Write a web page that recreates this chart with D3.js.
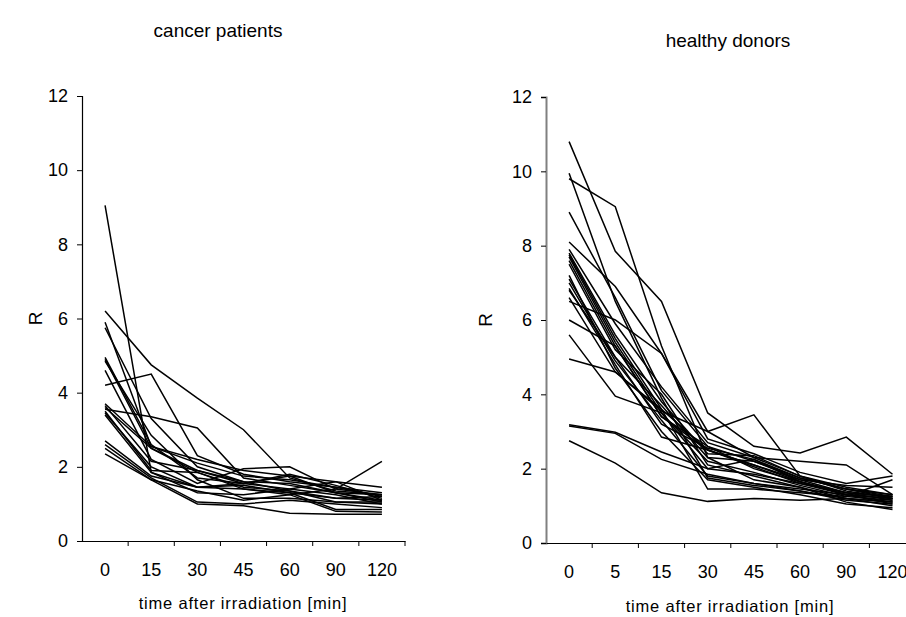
<!DOCTYPE html>
<html lang="en">
<head>
  <meta charset="UTF-8">
  <title>R vs time after irradiation</title>
  <style>
    body { margin: 0; background: #fff; }
    svg { display: block; font-family: 'Liberation Sans', Arial, sans-serif; }
    .series { fill: none; stroke: #000; stroke-width: 1.5px; stroke-linejoin: miter; }
    .tick-label { font-size: 18px; fill: #000; }
    .axis-title { font-size: 16.5px; letter-spacing: 0.8px; fill: #000; }
    .panel-title { font-size: 19px; fill: #000; }
  </style>
  <script src="https://cdn.jsdelivr.net/npm/d3@7"></script>
</head>
<body>
<svg width="906" height="617"></svg>
<script>
  // categories (minutes after irradiation)
  const cancerTimes = ['0', '15', '30', '45', '60', '90', '120'];
  const healthyTimes = ['0', '5', '15', '30', '45', '60', '90', '120'];
  const yTicks = [0, 2, 4, 6, 8, 10, 12];

  // cancer patients, one row per patient
  const cancerSeries = [
    [9.05, 1.85, 1.45, 1.40, 1.30, 1.15, 1.10],
    [6.20, 4.75, 3.85, 3.00, 1.70, 1.35, 1.25],
    [5.90, 2.55, 2.10, 1.75, 1.65, 1.45, 1.20],
    [5.75, 3.30, 2.00, 1.60, 1.55, 1.30, 1.05],
    [4.95, 2.60, 1.70, 1.55, 1.80, 1.50, 1.15],
    [4.90, 2.50, 1.90, 1.55, 1.40, 1.25, 1.00],
    [4.60, 2.20, 1.55, 1.95, 2.00, 1.40, 1.25],
    [4.20, 4.50, 2.30, 1.80, 1.60, 1.45, 1.30],
    [3.70, 2.55, 2.20, 1.90, 1.75, 1.60, 1.45],
    [3.65, 2.15, 1.90, 1.60, 1.35, 1.05, 1.05],
    [3.55, 3.35, 3.05, 1.70, 1.50, 1.30, 1.10],
    [3.50, 1.90, 1.85, 1.40, 1.25, 1.40, 2.15],
    [3.45, 2.00, 1.45, 1.55, 1.75, 1.30, 1.25],
    [3.40, 1.85, 1.30, 1.25, 1.40, 1.60, 1.10],
    [3.60, 2.50, 1.85, 1.45, 1.35, 1.15, 1.20],
    [4.85, 2.85, 1.65, 1.15, 1.15, 1.05, 1.00],
    [2.70, 1.75, 1.45, 1.50, 1.30, 0.85, 0.85],
    [2.60, 1.70, 1.05, 1.00, 1.10, 1.00, 0.90],
    [2.50, 1.65, 1.00, 0.95, 0.75, 0.72, 0.72],
    [2.35, 1.65, 1.35, 1.10, 1.25, 0.80, 0.78]
  ];

  // healthy donors, one row per donor
  const healthySeries = [
    [10.8, 7.85, 6.50, 3.50, 2.60, 2.42, 2.85, 1.85],
    [9.80, 9.05, 5.30, 2.30, 2.20, 1.75, 1.45, 1.20],
    [9.95, 6.50, 3.90, 1.75, 1.55, 1.40, 1.20, 1.10],
    [8.90, 6.60, 4.10, 2.60, 2.00, 1.65, 1.35, 1.15],
    [8.10, 6.90, 5.10, 3.00, 3.45, 1.80, 1.50, 1.30],
    [7.90, 5.90, 4.20, 2.70, 2.30, 2.20, 2.10, 1.30],
    [7.80, 5.60, 3.80, 2.40, 2.35, 1.80, 1.40, 1.20],
    [7.75, 5.50, 3.60, 2.50, 2.10, 1.65, 1.30, 1.05],
    [7.70, 5.40, 3.50, 2.20, 1.90, 1.55, 1.25, 1.15],
    [7.60, 5.30, 3.40, 2.60, 2.20, 1.70, 1.35, 1.25],
    [7.50, 5.20, 4.00, 2.10, 1.80, 1.50, 1.20, 1.00],
    [7.20, 4.70, 3.00, 1.70, 1.50, 1.30, 1.05, 0.95],
    [7.10, 5.00, 3.20, 2.55, 2.25, 1.75, 1.45, 1.30],
    [7.00, 4.90, 3.30, 1.80, 1.60, 1.45, 1.30, 1.20],
    [6.85, 4.80, 2.85, 2.50, 2.05, 1.60, 1.35, 1.25],
    [6.80, 5.00, 3.70, 2.30, 1.70, 1.50, 1.10, 0.90],
    [6.60, 4.60, 3.60, 1.45, 1.45, 1.35, 1.25, 1.70],
    [6.50, 6.00, 5.10, 2.80, 2.40, 1.90, 1.60, 1.80],
    [6.00, 5.30, 3.40, 2.50, 2.10, 1.70, 1.55, 1.50],
    [5.60, 3.95, 3.50, 2.00, 1.85, 1.60, 1.30, 1.20],
    [4.95, 4.60, 3.55, 3.00, 2.30, 1.80, 1.45, 1.25],
    [3.18, 2.98, 2.45, 2.00, 2.25, 1.65, 1.30, 1.10],
    [3.15, 2.95, 2.25, 1.85, 1.60, 1.40, 1.15, 1.05],
    [2.75, 2.15, 1.35, 1.12, 1.20, 1.15, 1.20, 1.10]
  ];

  const svg = d3.select("svg");

  function drawPanel(opts) {
    const g = svg.append("g");
    const x = d3.scaleBand().domain(opts.times).range([opts.left, opts.right]);
    const y = d3.scaleLinear().domain([0, 12]).range([opts.bottom, opts.top]);

    // lines
    const line = d3.line()
      .x((d, i) => x(opts.times[i]) + x.bandwidth() / 2)
      .y(d => y(d));
    g.selectAll("path.series")
      .data(opts.series)
      .enter().append("path")
      .attr("class", "series")
      .attr("d", line);

    // y axis
    const yAxis = g.append("g")
      .attr("transform", `translate(${opts.left},0)`)
      .call(d3.axisLeft(y).tickValues(yTicks).tickSize(5).tickPadding(9));
    yAxis.select(".domain").attr("stroke", opts.yAxisColor).attr("stroke-width", opts.yAxisWidth);
    yAxis.selectAll(".tick line").attr("stroke", "#000");
    yAxis.selectAll(".tick text").attr("class", "tick-label").attr("font-size", null).attr("font-family", null);

    // x axis: labels centred in categories, ticks at category boundaries
    const xAxis = g.append("g")
      .attr("transform", `translate(0,${opts.bottom})`)
      .call(d3.axisBottom(x).tickSize(0).tickPadding(22));
    xAxis.select(".domain").attr("stroke", "#000").attr("stroke-width", 1.2);
    xAxis.selectAll(".tick text").attr("class", "tick-label").attr("font-size", null).attr("font-family", null);
    xAxis.selectAll("line.sep")
      .data(opts.times)
      .enter().append("line")
      .attr("class", "sep")
      .attr("x1", d => x(d) + x.bandwidth())
      .attr("x2", d => x(d) + x.bandwidth())
      .attr("y1", 0).attr("y2", 5)
      .attr("stroke", "#000");

    // titles
    g.append("text")
      .attr("class", "panel-title")
      .attr("x", opts.titleX).attr("y", opts.titleY)
      .attr("text-anchor", "middle")
      .text(opts.title);
    g.append("text")
      .attr("class", "axis-title")
      .attr("x", opts.xTitleX).attr("y", opts.xTitleY)
      .attr("text-anchor", "middle")
      .text("time after irradiation [min]");
    g.append("text")
      .attr("class", "panel-title")
      .attr("transform", `translate(${opts.rX},${(opts.top + opts.bottom) / 2}) rotate(-90)`)
      .attr("text-anchor", "middle")
      .text("R");
  }

  drawPanel({
    times: cancerTimes, series: cancerSeries,
    left: 82, right: 405, top: 96, bottom: 541,
    title: "cancer patients", titleX: 218, titleY: 37,
    xTitleX: 243, xTitleY: 609, rX: 42,
    yAxisColor: "#000", yAxisWidth: 1.2
  });

  drawPanel({
    times: healthyTimes, series: healthySeries,
    left: 546, right: 546 + 8 * 46.2, top: 97, bottom: 543,
    title: "healthy donors", titleX: 728, titleY: 47,
    xTitleX: 730, xTitleY: 612, rX: 492,
    yAxisColor: "#808080", yAxisWidth: 2
  });
</script>
</body>
</html>
